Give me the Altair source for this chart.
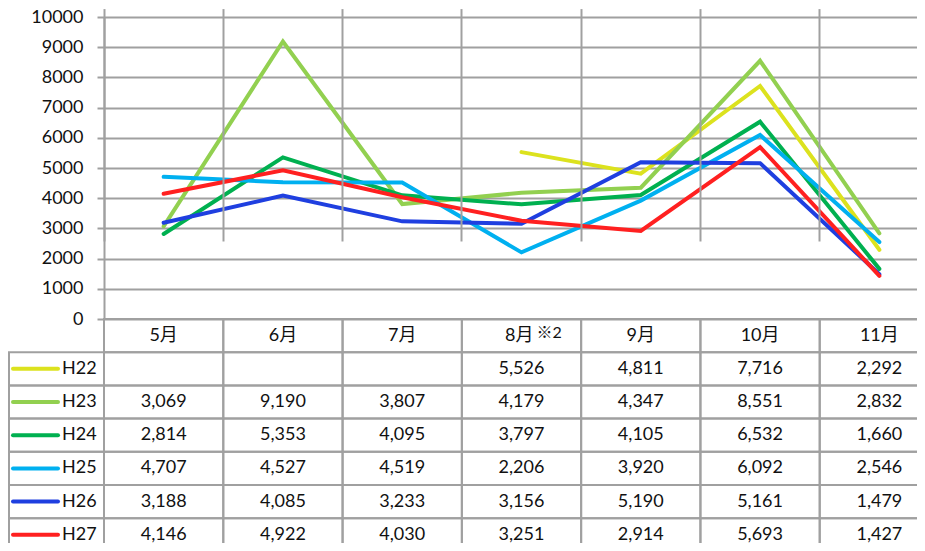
import altair as alt
import pandas as pd

# ---- data ----
months = ["5月", "6月", "7月", "8月", "9月", "10月", "11月"]
month_notes = ["", "", "", "※2", "", "", ""]
series = ["H22", "H23", "H24", "H25", "H26", "H27"]
H22 = [None, None, None, 5526, 4811, 7716, 2292]
H23 = [3069, 9190, 3807, 4179, 4347, 8551, 2832]
H24 = [2814, 5353, 4095, 3797, 4105, 6532, 1660]
H25 = [4707, 4527, 4519, 2206, 3920, 6092, 2546]
H26 = [3188, 4085, 3233, 3156, 5190, 5161, 1479]
H27 = [4146, 4922, 4030, 3251, 2914, 5693, 1427]
values = [H22, H23, H24, H25, H26, H27]
y_ticks = list(range(0, 10001, 1000))

# ---- style ----
colors = ["#DCE21E", "#92D050", "#00B050", "#00B0F0", "#1F3FE0", "#FF2020"]
widths = [4, 4, 4, 4, 4, 6.5]
GRID = "#A0A0A0"
FONT = "Lato, 'Noto Sans CJK JP', sans-serif"
FULL_W = 835          # full width of the 7 month columns (partly cut off at the right)
VIEW_W = 813          # visible part
PLOT_H = 302
ROW_H = 33.2
rows = ["hdr"] + series
TABLE_H = ROW_H * len(rows)
TOP = 9
VIEW_H = 535 - TOP    # visible part (table is cut off at the bottom)
LEGEND_W = 96

line_rows, cell_rows = [], []
for s, vals in zip(series, values):
    for m, v in zip(months, vals):
        if v is not None:
            line_rows.append({"series": s, "month": m, "value": v})
        cell_rows.append({"row": s, "month": m, "label": "" if v is None else f"{v:,}"})
lines_df = pd.DataFrame(line_rows)
cells_df = pd.DataFrame(cell_rows)
hdr_df = pd.DataFrame({"row": "hdr", "month": months, "note": month_notes})
legend_df = pd.DataFrame({"row": series, "series": series})
grid_df = pd.DataFrame({"row": [r for r in rows for _ in months],
                        "month": months * len(rows)})

x_enc = alt.X("month:N", sort=months,
              scale=alt.Scale(type="band", domain=months, range=[0, FULL_W],
                              paddingInner=0, paddingOuter=0),
              axis=alt.Axis(title=None, labels=False, ticks=False, domain=False,
                            grid=True, bandPosition=0, gridColor=GRID, gridWidth=2))
ty_enc = alt.Y("row:N", sort=rows,
               scale=alt.Scale(type="band", domain=rows, range=[PLOT_H, PLOT_H + TABLE_H],
                               paddingInner=0, paddingOuter=0),
               axis=None)
color_enc = alt.Color("series:N", scale=alt.Scale(domain=series, range=colors), legend=None)
sw_enc = alt.StrokeWidth("series:N", scale=alt.Scale(domain=series, range=widths), legend=None)

cells = alt.Chart(grid_df).mark_rect(fill="white", fillOpacity=0, stroke=GRID, strokeWidth=2).encode(
    x=x_enc, y=ty_enc)

legend_cells = alt.Chart(legend_df).mark_rect(fill="white", fillOpacity=0, stroke=GRID, strokeWidth=2).encode(
    x=alt.value(-LEGEND_W + 1), x2=alt.value(0), y=ty_enc)

legend_lines = alt.Chart(legend_df).mark_rule(strokeCap="round").encode(
    x=alt.value(-91), x2=alt.value(-46), y=ty_enc, color=color_enc, strokeWidth=sw_enc)

legend_text = alt.Chart(legend_df).mark_text(align="left", font=FONT, fontSize=18, color="#111").encode(
    x=alt.value(-42), y=ty_enc, text="series:N")

cell_text = alt.Chart(cells_df).mark_text(font=FONT, fontSize=18, color="#111").encode(
    x=x_enc, y=ty_enc, text="label:N")

hdr_plain = alt.Chart(hdr_df).transform_filter("datum.note == ''").mark_text(
    font=FONT, fontSize=18, color="#111").encode(x=x_enc, y=ty_enc, text="month:N")
hdr_main = alt.Chart(hdr_df).transform_filter("datum.note != ''").mark_text(
    font=FONT, fontSize=18, color="#111", align="right", dx=12).encode(x=x_enc, y=ty_enc, text="month:N")
hdr_note = alt.Chart(hdr_df).transform_filter("datum.note != ''").mark_text(
    font=FONT, fontSize=16, color="#111", align="left", dx=15, dy=-3).encode(x=x_enc, y=ty_enc, text="note:N")

lines = alt.Chart(lines_df).mark_line(strokeCap="round", strokeJoin="miter").encode(
    x=x_enc,
    y=alt.Y("value:Q",
            scale=alt.Scale(domain=[0, 10000], range=[PLOT_H, 0], nice=False, zero=True),
            axis=alt.Axis(title=None, values=y_ticks, format="d", grid=True, gridColor=GRID,
                          gridWidth=2, domainColor=GRID, domainWidth=2, tickColor=GRID,
                          tickWidth=2, tickSize=7, labelFont=FONT, labelFontSize=18,
                          labelColor="#111", labelPadding=14)),
    color=color_enc, strokeWidth=sw_enc, order=alt.Order("series:N"))

chart = alt.layer(cells, legend_cells, legend_lines, legend_text, cell_text,
                  hdr_plain, hdr_main, hdr_note, lines).resolve_scale(
    y="independent").properties(
    width=VIEW_W, height=VIEW_H,
    autosize=alt.AutoSizeParams(type="none"),
    padding={"left": LEGEND_W, "top": TOP, "right": 0, "bottom": 0}
).configure_view(stroke=None)

chart.save("out.html", embed_options={"renderer": "svg", "actions": False})
